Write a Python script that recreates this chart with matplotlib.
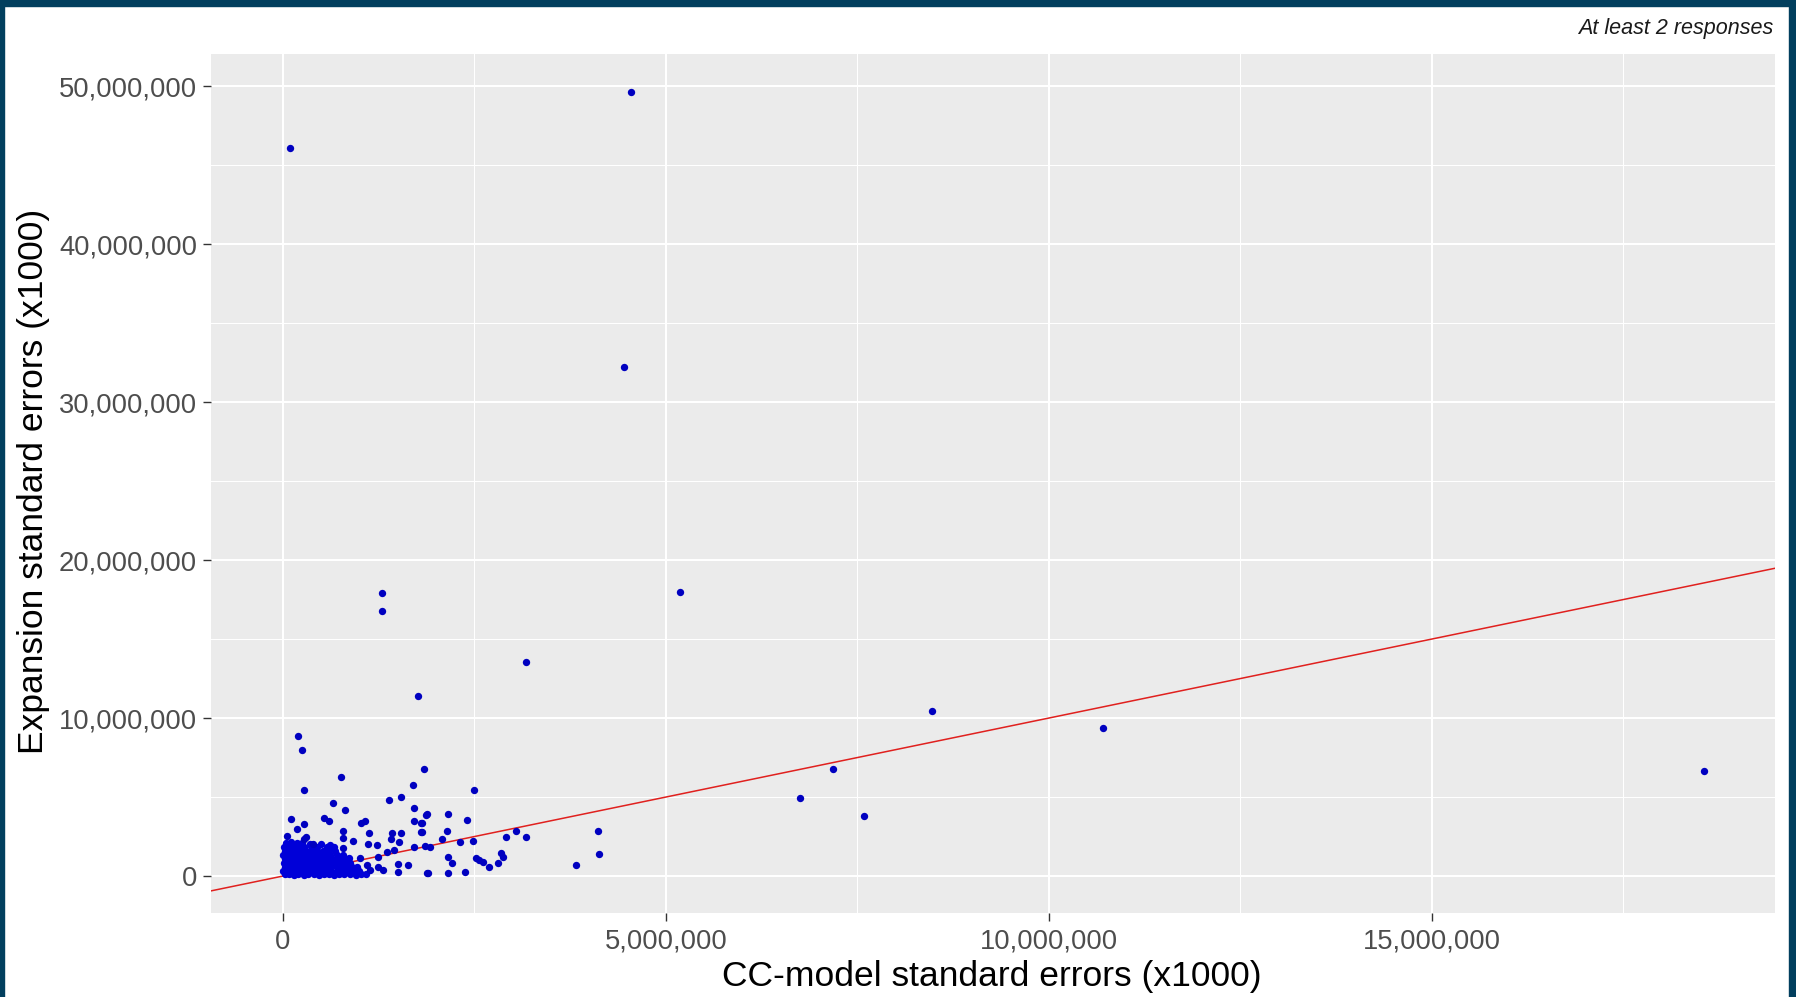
import matplotlib
matplotlib.use("Agg")
import matplotlib.pyplot as plt
from matplotlib.patches import Rectangle
from matplotlib.ticker import FuncFormatter

# ---------------- data (values in millions, x1000 units) ----------------
SCALE = 1e6

# isolated / scattered points
cc_scatter = [0.09, 4.54, 4.45, 5.18, 3.17, 1.29, 1.29, 1.76, 0.19, 0.25,
              0.76, 1.84, 1.70, 2.49, 0.27, 8.47, 10.70, 7.18, 6.75, 7.58,
              18.55, 4.11, 4.13, 3.82, 1.88, 2.15, 1.81, 2.40, 1.81, 2.14,
              2.08, 1.92, 2.31, 2.48, 2.91, 3.04, 3.17, 2.15, 2.21, 2.52,
              2.56, 2.61, 2.69, 2.81, 2.85, 2.87, 1.89, 2.15, 2.38, 1.54,
              1.38, 0.65, 0.81, 1.71, 1.87, 0.10, 0.54, 0.60, 0.27, 1.02,
              1.07, 1.71, 1.80, 0.18, 0.05, 0.78, 1.12, 1.42, 1.54, 1.80,
              0.27, 0.78, 0.91, 1.41, 1.51, 0.39, 1.11, 1.23, 0.78, 1.45,
              1.71, 1.85, 1.10, 1.14, 1.24, 1.31, 1.50, 1.50, 1.63, 1.88,
              1.36, 1.24, 1.00, 0.30]
exp_scatter = [46.1, 49.6, 32.2, 18.0, 13.55, 17.9, 16.8, 11.4, 8.85, 8.0,
               6.27, 6.8, 5.76, 5.44, 5.44, 10.45, 9.37, 6.77, 4.94, 3.8,
               6.65, 2.85, 1.39, 0.70, 3.9, 3.9, 3.35, 3.55, 2.78, 2.85,
               2.34, 1.84, 2.15, 2.22, 2.47, 2.85, 2.47, 1.20, 0.82, 1.14,
               1.01, 0.89, 0.57, 0.82, 1.46, 1.20, 0.19, 0.19, 0.25, 5.0,
               4.8, 4.6, 4.18, 4.3, 3.86, 3.6, 3.67, 3.48, 3.29, 3.35,
               3.48, 3.48, 3.35, 2.97, 2.53, 2.85, 2.72, 2.72, 2.72, 2.78,
               2.34, 2.40, 2.22, 2.34, 2.15, 2.03, 2.03, 1.96, 1.77, 1.65,
               1.84, 1.90, 0.70, 0.38, 0.57, 0.38, 0.76, 0.25, 0.70, 0.19,
               1.52, 1.20, 1.14, 2.45]

# dense cluster near the origin
cc_cluster = [0.02, 0.08, 0.14, 0.20, 0.27, 0.33, 0.40, 0.47, 0.53, 0.60, 0.66, 0.73, 0.80, 0.87, 0.95, 1.02, 1.08,
              0.00, 0.05, 0.11, 0.17, 0.23, 0.30, 0.36, 0.43, 0.50, 0.56, 0.63, 0.70, 0.77, 0.84, 0.92, 0.99,
              0.03, 0.09, 0.15, 0.21, 0.28, 0.34, 0.41, 0.48, 0.55, 0.62, 0.69, 0.76, 0.83, 0.90, 0.97,
              0.01, 0.07, 0.13, 0.20, 0.26, 0.33, 0.39, 0.46, 0.53, 0.60, 0.67, 0.74, 0.81, 0.88,
              0.02, 0.08, 0.14, 0.21, 0.28, 0.35, 0.42, 0.50, 0.57, 0.64, 0.72, 0.79, 0.86,
              0.00, 0.06, 0.12, 0.19, 0.25, 0.33, 0.40, 0.47, 0.55, 0.62, 0.70, 0.78,
              0.03, 0.10, 0.16, 0.23, 0.30, 0.38, 0.45, 0.52, 0.60, 0.68,
              0.01, 0.07, 0.14, 0.20, 0.27, 0.36, 0.44, 0.58, 0.66,
              0.04, 0.11, 0.18, 0.25, 0.35, 0.50, 0.62]
exp_cluster = [0.10, 0.12, 0.08, 0.11, 0.09, 0.13, 0.10, 0.08, 0.12, 0.10, 0.09, 0.11, 0.10, 0.12, 0.09, 0.11, 0.10,
               0.35, 0.33, 0.37, 0.34, 0.36, 0.35, 0.33, 0.37, 0.34, 0.36, 0.35, 0.33, 0.36, 0.34, 0.37, 0.35,
               0.60, 0.62, 0.58, 0.61, 0.59, 0.63, 0.60, 0.58, 0.62, 0.60, 0.61, 0.59, 0.62, 0.60, 0.58,
               0.85, 0.87, 0.83, 0.86, 0.84, 0.88, 0.85, 0.83, 0.87, 0.85, 0.86, 0.84, 0.87, 0.85,
               1.10, 1.12, 1.08, 1.11, 1.09, 1.13, 1.10, 1.08, 1.12, 1.10, 1.11, 1.09, 1.12,
               1.35, 1.37, 1.33, 1.36, 1.34, 1.38, 1.35, 1.33, 1.37, 1.35, 1.36, 1.34,
               1.60, 1.62, 1.58, 1.61, 1.59, 1.63, 1.60, 1.58, 1.62, 1.60,
               1.85, 1.87, 1.83, 1.86, 1.84, 1.88, 1.85, 1.83, 1.86,
               2.10, 2.15, 2.08, 2.12, 2.05, 2.00, 1.95]

x_major = [0, 5, 10, 15]
x_minor = [2.5, 7.5, 12.5, 17.5]
y_major = [0, 10, 20, 30, 40, 50]
y_minor = [5, 15, 25, 35, 45]
x_limits = [-0.94, 19.48]
y_limits = [-2.34, 52.03]

x_title = "CC-model standard errors (x1000)"
y_title = "Expansion standard errors (x1000)"
note = "At least 2 responses"

# ---------------- figure ----------------
W, H = 1796, 997
fig = plt.figure(figsize=(W / 100, H / 100), dpi=100, facecolor="white")
font = ["Liberation Sans", "DejaVu Sans"]

ax = fig.add_axes([211 / W, 1 - 913 / H, (1775 - 211) / W, (913 - 54) / H])
ax.set_facecolor("#EBEBEB")
for s in ax.spines.values():
    s.set_visible(False)

ax.set_xlim(x_limits[0] * SCALE, x_limits[1] * SCALE)
ax.set_ylim(y_limits[0] * SCALE, y_limits[1] * SCALE)

ax.set_xticks([v * SCALE for v in x_major])
ax.set_xticks([v * SCALE for v in x_minor], minor=True)
ax.set_yticks([v * SCALE for v in y_major])
ax.set_yticks([v * SCALE for v in y_minor], minor=True)

fmt = FuncFormatter(lambda v, p: f"{int(round(v)):,}")
ax.xaxis.set_major_formatter(fmt)
ax.yaxis.set_major_formatter(fmt)

ax.grid(which="major", color="white", linewidth=1.5)
ax.grid(which="minor", color="white", linewidth=0.75)
ax.set_axisbelow(True)

ax.tick_params(axis="both", which="major", length=5.5, width=1.0, color="#333333",
               labelcolor="#4D4D4D", labelsize=19.7)
ax.tick_params(axis="x", which="major", pad=6)
ax.tick_params(axis="y", which="major", pad=4.5)
ax.tick_params(which="minor", length=0)
for lab in ax.get_xticklabels() + ax.get_yticklabels():
    lab.set_fontfamily(font)

# reference line y = x
ax.axline((0, 0), slope=1, color="#E0201E", linewidth=1.1, zorder=2)

# points
ax.scatter([v * SCALE for v in cc_cluster], [v * SCALE for v in exp_cluster],
           s=28, color="#0000D8", linewidths=0, zorder=3)
ax.scatter([v * SCALE for v in cc_scatter], [v * SCALE for v in exp_scatter],
           s=28, color="#0000C0", linewidths=0, zorder=3)

ax.set_xlabel(x_title, fontsize=25.5, family=font, color="black", va="center")
ax.set_ylabel(y_title, fontsize=25.5, family=font, color="black", va="center")
ax.xaxis.set_label_coords((992 - 211) / (1775 - 211), (913 - 976) / (913 - 54))
ax.yaxis.set_label_coords((34 - 211) / (1775 - 211), (913 - 481) / (913 - 54))

fig.text(1773 / W, 1 - 34 / H, note, ha="right", va="baseline", fontsize=15.5,
         style="italic", family=font, color="#1A1A1A")

# dark frame around the picture
frame = "#023F5E"
fig.patches.append(Rectangle((0, 0), 4 / W, 1, transform=fig.transFigure, color=frame, zorder=10))
fig.patches.append(Rectangle((0, 1 - 6 / H), 1, 6 / H, transform=fig.transFigure, color=frame, zorder=10))
fig.patches.append(Rectangle((1 - 7 / W, 0), 7 / W, 1, transform=fig.transFigure, color=frame, zorder=10))

fig.savefig("out.png", dpi=100, facecolor="white")
